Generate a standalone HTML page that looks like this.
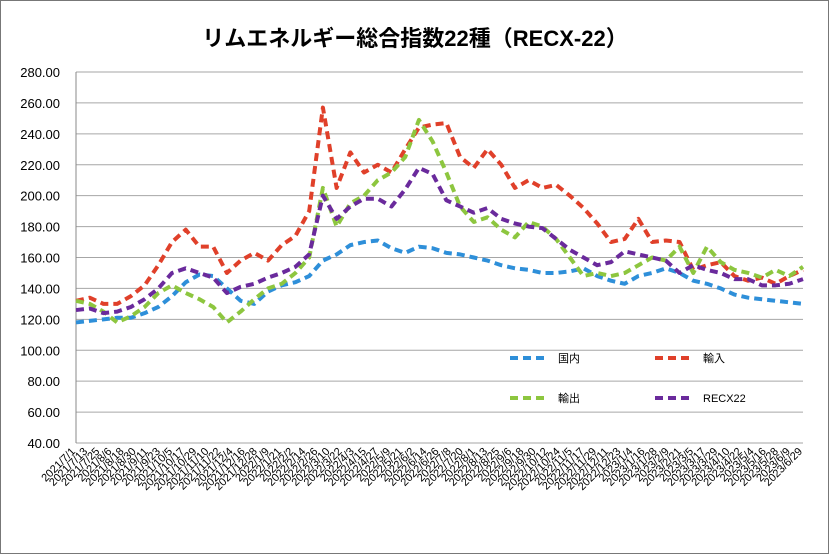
<!DOCTYPE html>
<html><head><meta charset="utf-8"><style>
body{margin:0;background:#fff}
svg{display:block;font-family:"Liberation Sans","Noto Sans CJK JP",sans-serif}
</style></head><body>
<svg id="c" width="829" height="554">
<rect x="0.5" y="0.5" width="828" height="553" fill="#fff" stroke="#777"/>
<text x="415" y="46" text-anchor="middle" font-size="22" font-weight="bold" fill="#000">リムエネルギー総合指数22種（RECX-22）</text>
</svg>
<script>
const yTicks=[40,60,80,100,120,140,160,180,200,220,240,260,280];
const domestic=[118,119,120,121,121,124,128,135,144,149,148,140,132,130,138,142,144,148,158,162,168,170,171,166,163,167,166,163,162,160,158,155,153,152,150,150,151,153,148,145,143,148,150,153,150,145,143,140,136,134,133,132,131,130];
const imports=[132,134,130,130,135,142,155,170,178,167,167,150,158,163,158,168,174,190,257,205,228,215,220,215,230,244,246,247,225,218,230,220,205,210,205,207,200,192,182,170,172,185,170,171,170,152,155,157,148,145,147,143,148,152];
const exports=[132,130,125,118,122,128,137,142,137,133,128,118,125,133,140,143,150,160,205,180,195,200,210,215,225,249,235,215,193,183,186,178,173,183,180,172,160,148,150,148,150,155,160,158,167,150,167,157,152,150,147,152,148,154];
const recx=[126,127,124,125,128,133,140,150,153,150,147,137,141,143,147,150,154,162,200,185,193,198,198,193,204,218,214,197,193,189,192,185,182,180,179,172,165,160,155,157,164,162,160,158,150,155,152,150,146,146,142,142,143,146];
const seriesNames=["国内","輸入","輸出","RECX22"];
const startDate=[2021,7,1], endLabel="2023/6/29", labelCount=61, labelStepDays=12;
const xLabels=[];
(function(){const d0=new Date(startDate[0],startDate[1]-1,startDate[2]);for(let i=0;i<labelCount-1;i++){const d=new Date(d0.getTime()+i*labelStepDays*864e5);xLabels.push(d.getFullYear()+"/"+(d.getMonth()+1)+"/"+d.getDate());}xLabels.push(endLabel);})();

const svg=document.getElementById('c');const NS="http://www.w3.org/2000/svg";
const L=76,R=803,T=72,B=443;
const y=v=>B-(v-40)/240*(B-T);
const x=i=>L+i*(R-L)/(domestic.length-1);
const xl=i=>L+i*(R-L)/(xLabels.length-1);
function mk(t,a){const e=document.createElementNS(NS,t);for(const k in a)e.setAttribute(k,a[k]);svg.appendChild(e);return e;}
yTicks.forEach(v=>{
 const g=mk('line',{x1:L,x2:R,y1:y(v),y2:y(v),stroke:'#a6a6a6','stroke-width':1});
 
 
 const t=mk('text',{x:60,y:y(v)+5,'text-anchor':'end','font-size':13,fill:'#000'});
 t.textContent=v.toFixed(2);
 
 
});
const ax=mk('line',{x1:L,x2:L,y1:T,y2:B,stroke:'#888','stroke-width':1});


xLabels.forEach((s,i)=>{
 const px=xl(i),py=452;
 const t=mk('text',{x:px,y:py,'text-anchor':'end','font-size':11,fill:'#000',transform:`rotate(-45 ${px} ${py})`});
 t.textContent=s;
 
 
});
const cols=['#2e8fd9','#e0402a','#8dc63f','#6a2a9c'];
[domestic,imports,exports,recx].forEach((arr,k)=>{
 const p=mk('polyline',{points:arr.map((v,i)=>x(i)+','+y(v)).join(' '),fill:'none',stroke:cols[k],'stroke-width':4,'stroke-dasharray':'8 5','stroke-linejoin':'round'});
 
 
});
const lp=[[510,358],[655,358],[510,398],[655,398]];
seriesNames.forEach((n,k)=>{
 const [lx,ly]=lp[k];
 const l=mk('line',{x1:lx,x2:lx+38,y1:ly,y2:ly,stroke:cols[k],'stroke-width':4,'stroke-dasharray':'8 5'});
 
 
 const t=mk('text',{x:lx+48,y:ly+4,'font-size':11,fill:'#000'});
 t.textContent=n;
 
 
});
</script>
</body></html>
